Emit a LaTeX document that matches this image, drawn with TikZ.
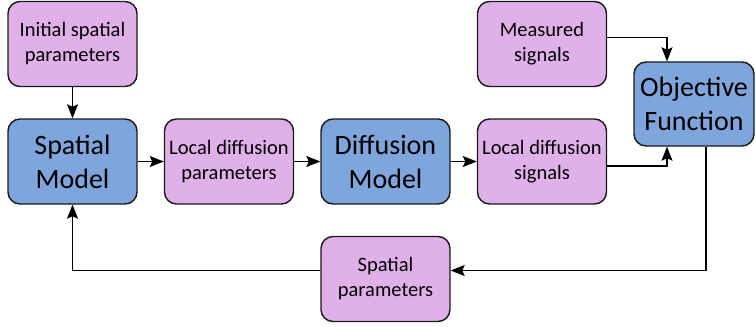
\documentclass[tikz,border=0pt]{standalone}
\usepackage{fontspec}
\setmainfont{Carlito}
\usetikzlibrary{arrows.meta,positioning}
\definecolor{boxpink}{RGB}{224,176,232}
\definecolor{boxblue}{RGB}{126,166,220}

\begin{document}
\begin{tikzpicture}[x=1pt,y=-1pt,node distance=117.5pt and 156.5pt,on grid,
   data/.style={rectangle, rounded corners=12pt, draw=black!90, line width=1.4pt,
     fill=boxpink, minimum width=129pt, minimum height=85pt, align=center,
     font=\fontsize{20.5}{25}\selectfont},
   model/.style={data, fill=boxblue, font=\fontsize{28}{34}\selectfont},
   flow/.style={-{Stealth[length=14pt,width=11pt,inset=2.5pt]}, line width=1.3pt}]
   \useasboundingbox (0,0) rectangle (756,327);
   \node[model] (spatial) at (72.5,161.5) {Spatial\\Model};
   \node[data]  (init)      [above=of spatial]   {Initial spatial\\parameters};
   \node[data]  (localpar)  [right=of spatial]   {Local diffusion\\parameters};
   \node[model] (diffusion) [right=of localpar]  {Diffusion\\Model};
   \node[data]  (localsig)  [right=of diffusion] {Local diffusion\\signals};
   \node[data]  (measured)  [above=of localsig]  {Measured\\signals};
   \node[data]  (spatpar)   [below=of diffusion] {Spatial\\parameters};
   \node[model, minimum width=120pt, minimum height=84pt] (objective) at (694,104) {Objective\\Function};

   \path[flow]
    (init) edge (spatial)
    (spatial) edge (localpar)
    (localpar) edge (diffusion)
    (diffusion) edge (localsig);
   \draw[flow] ([yshift=6.5pt]measured.east) -| ([xshift=-27pt]objective.north);
   \draw[flow] ([yshift=-4.5pt]localsig.east) -| ([xshift=-27pt]objective.south);
   \draw[flow] ([xshift=12pt]objective.south) |- ([yshift=8.5pt]spatpar.east);
   \draw[flow] ([yshift=8.5pt]spatpar.west) -| (spatial.south);
\end{tikzpicture}
\end{document}
